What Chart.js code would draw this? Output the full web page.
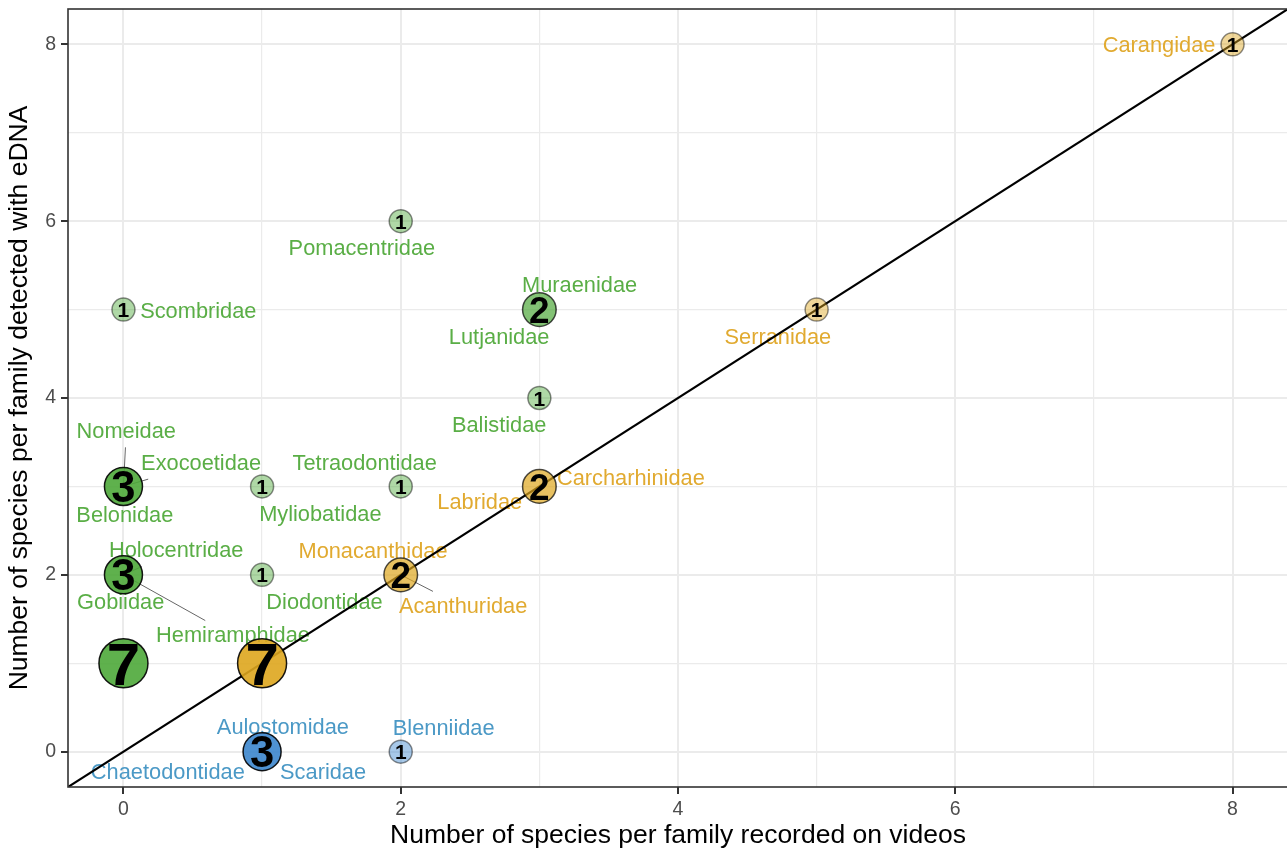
<!DOCTYPE html>
<html><head><meta charset="utf-8">
<script src="https://cdn.jsdelivr.net/npm/chart.js@4/dist/chart.umd.min.js"></script>
<style>
html,body{margin:0;padding:0;overflow:hidden;background:#fff}
#wrap{position:relative;width:1289px;height:852px}
</style></head>
<body><div id="wrap"><canvas id="c"></canvas></div>
<script>
// ---- aggregated bubbles: number of families at each (video, eDNA) pair ----
const bubbleVideo = [8, 5, 3, 2, 1, 2, 0, 3, 3, 0, 1, 2, 0, 1, 0, 1, 2];
const bubbleEDNA  = [8, 5, 3, 2, 1, 6, 5, 5, 4, 3, 3, 3, 2, 2, 1, 0, 0];
const bubbleCount = [1, 1, 2, 2, 7, 1, 1, 2, 1, 3, 1, 1, 3, 1, 7, 3, 1];

// ---- labelled families ----
const families = ['Carangidae','Serranidae','Carcharhinidae','Labridae','Monacanthidae','Acanthuridae',
  'Pomacentridae','Scombridae','Muraenidae','Lutjanidae','Balistidae','Nomeidae','Exocoetidae','Belonidae',
  'Myliobatidae','Tetraodontidae','Holocentridae','Gobiidae','Hemiramphidae','Diodontidae',
  'Aulostomidae','Chaetodontidae','Scaridae','Blenniidae'];
const familyVideo = [8,5,3,3,2,2, 2,0,3,3,3,0,0,0,1,2,0,0,0,1, 1,1,1,2];
const familyEDNA  = [8,5,3,3,2,2, 6,5,5,5,4,3,3,3,3,3,2,2,2,2, 0,0,0,0];
// repelled label positions (data units)
const labelX = [7.47,4.72,3.66,2.57,1.80,2.45, 1.72,0.54,3.29,2.71,2.71,0.02,0.56,0.01,1.42,1.74,0.38,-0.02,0.79,1.45, 1.15,0.32,1.44,2.31];
const labelY = [8.00,4.70,3.11,2.83,2.28,1.66, 5.71,4.99,5.29,4.70,3.71,3.64,3.28,2.69,2.70,3.28,2.29,1.70,1.33,1.70, 0.29,-0.22,-0.22,0.28];
const leaderFamilies = ['Nomeidae','Exocoetidae','Holocentridae','Hemiramphidae','Acanthuridae'];

// ---- axes ----
const axisMin = -0.4, axisMax = 8.4;
const tickValues = [0,1,2,3,4,5,6,7,8];
const identityLine = [-1, 9];
const xTitle = 'Number of species per family recorded on videos';
const yTitle = 'Number of species per family detected with eDNA';

const FONT = '"Liberation Sans", Arial, Helvetica, sans-serif';
const baseRGB = {equal:[222,166,30], edna:[78,168,58], video:[60,134,205]};
const textCol = {equal:'#e1aa30', edna:'#5aae46', video:'#4b99c6'};
function category(v, e){ return e === 0 ? 'video' : (e === v ? 'equal' : 'edna'); }
function radiusFor(n){ return 11.5 + 13 * Math.sqrt((n - 1) / 6); }
function numSize(n){ return 21 + 39 * Math.sqrt((n - 1) / 6); }
function alphaFor(n){ return Math.min(0.9, 0.2 + 0.25 * n); }
function rgba(c, a){ return 'rgba(' + c[0] + ',' + c[1] + ',' + c[2] + ',' + a + ')'; }

const bubbles = bubbleVideo.map((x, i) => ({x: x, y: bubbleEDNA[i], n: bubbleCount[i], g: category(x, bubbleEDNA[i])}));

const labelPlugin = {
  id: 'repelLabels',
  beforeDatasetsDraw(chart){
    const ctx = chart.ctx, xs = chart.scales.x, ys = chart.scales.y;
    ctx.save();
    ctx.font = '21.8px ' + FONT;
    ctx.textAlign = 'center';
    ctx.textBaseline = 'middle';
    families.forEach((name, i) => {
      const g = category(familyVideo[i], familyEDNA[i]);
      const lx = xs.getPixelForValue(labelX[i]), ly = ys.getPixelForValue(labelY[i]) + 2;
      if (leaderFamilies.includes(name)) {
        const px = xs.getPixelForValue(familyVideo[i]), py = ys.getPixelForValue(familyEDNA[i]);
        const hw = ctx.measureText(name).width / 2 + 5, hh = 15.5;
        const dx = lx - px, dy = ly - py;
        const tX = Math.abs(dx) > 1e-6 ? (Math.abs(dx) - hw) / Math.abs(dx) : -Infinity;
        const tY = Math.abs(dy) > 1e-6 ? (Math.abs(dy) - hh) / Math.abs(dy) : -Infinity;
        const t = Math.max(tX, tY, 0);
        ctx.beginPath();
        ctx.strokeStyle = '#666';
        ctx.lineWidth = 1;
        ctx.moveTo(px, py);
        ctx.lineTo(px + dx * t, py + dy * t);
        ctx.stroke();
      }
      ctx.fillStyle = textCol[g];
      ctx.fillText(name, lx, ly);
    });
    ctx.restore();
  },
  afterDatasetsDraw(chart){
    const ctx = chart.ctx, xs = chart.scales.x, ys = chart.scales.y, a = chart.chartArea;
    ctx.save();
    ctx.textAlign = 'center';
    ctx.textBaseline = 'alphabetic';
    ctx.fillStyle = '#000';
    bubbles.forEach(b => {
      const s = numSize(b.n);
      ctx.font = 'bold ' + s + 'px ' + FONT;
      ctx.fillText(String(b.n), xs.getPixelForValue(b.x), ys.getPixelForValue(b.y) + 0.358 * s);
    });
    ctx.strokeStyle = '#333';
    ctx.lineWidth = 1.6;
    ctx.strokeRect(a.left, a.top, a.right - a.left, a.bottom - a.top);
    ctx.restore();
  }
};

function axisOpts(titleText, isX){
  return {
    type: 'linear', min: axisMin, max: axisMax,
    afterBuildTicks: s => { s.ticks = tickValues.map(v => ({value: v})); },
    afterFit: s => {
      if (isX) { s.height = 65; s.paddingLeft = 0; s.paddingRight = 0; }
      else { s.width = 68; s.paddingTop = 0; s.paddingBottom = 0; }
    },
    ticks: {
      autoSkip: false, maxRotation: 0,
      callback: v => (v % 2 === 0 ? String(v) : ''),
      color: '#4d4d4d', font: {family: FONT, size: 19.5}, padding: isX ? 4 : 5
    },
    grid: {
      color: '#ebebeb',
      lineWidth: c => (c.tick && c.tick.value % 2 === 0 ? 2 : 1.2),
      tickColor: c => (c.tick && c.tick.value % 2 === 0 ? '#333' : 'rgba(0,0,0,0)'),
      tickLength: 7, tickWidth: 2, drawTicks: true
    },
    border: {display: false},
    title: {display: true, text: titleText, color: '#000', font: {family: FONT, size: 26.5}, padding: isX ? {top: 0, bottom: 0} : {top: 4, bottom: 0}}
  };
}

new Chart(document.getElementById('c'), {
  type: 'bubble',
  data: {
    datasets: [
      {
        type: 'bubble', order: 1, data: bubbles,
        radius: c => radiusFor(c.raw.n),
        backgroundColor: c => rgba(baseRGB[c.raw.g], alphaFor(c.raw.n)),
        borderColor: c => 'rgba(0,0,0,' + alphaFor(c.raw.n) + ')',
        borderWidth: 1.5, clip: false
      },
      {
        type: 'line', order: 2, data: identityLine.map(v => ({x: v, y: v})),
        borderColor: '#000', borderWidth: 2.2, pointRadius: 0, fill: false, tension: 0
      }
    ]
  },
  options: {
    responsive: true, maintainAspectRatio: false, animation: false, devicePixelRatio: 1,
    events: [],
    layout: {autoPadding: false, padding: {top: 9, right: 1, left: 0, bottom: 0}},
    plugins: {legend: {display: false}, tooltip: {enabled: false}},
    scales: {x: axisOpts(xTitle, true), y: axisOpts(yTitle, false)}
  },
  plugins: [labelPlugin]
});
</script>
</body></html>
